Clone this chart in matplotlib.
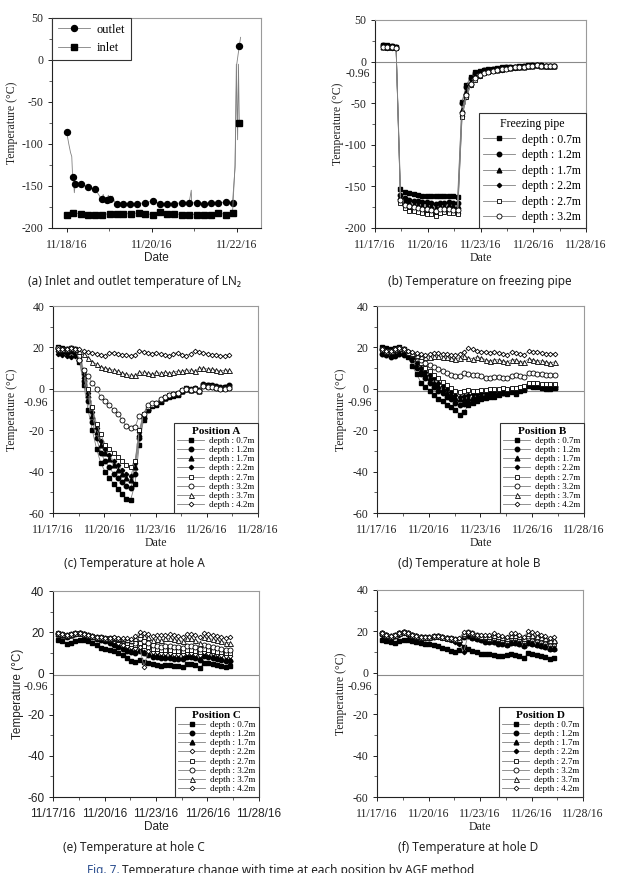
import matplotlib
matplotlib.use('Agg')
import matplotlib.pyplot as plt
from matplotlib.ticker import MultipleLocator, FixedLocator, FixedFormatter

plt.rcParams['axes.unicode_minus'] = False

SERIF = 'Liberation Serif'
SANS = 'Liberation Sans'
CAPF = ['Noto Sans', 'DejaVu Sans']

# ---------------- data ----------------
# panel (a): day number counted from 11/17/16
OUT_T = [1.00, 1.05, 1.09, 1.12, 1.14, 1.17, 1.18, 1.20, 1.23, 1.33, 1.50, 1.67, 1.75, 1.82, 1.86,
         1.90, 1.94, 1.98, 2.02, 2.08, 2.12, 2.18, 2.33, 2.49, 2.66, 2.84, 3.02, 3.20, 3.35, 3.53,
         3.71, 3.88, 3.93, 3.94, 4.06, 4.22, 4.40, 4.57, 4.74, 4.90, 4.96, 5.00, 5.06, 5.09]
OUT_V = [-86, -100, -110, -115, -139, -150, -158, -148, -146, -148, -151, -154, -160, -166, -160,
         -167, -167, -161, -166, -162, -168, -171, -171, -171, -171, -170, -168, -171, -171, -171,
         -170, -170, -155, -170, -170, -171, -170, -170, -169, -170, -128, -5, 17, 27]
OUT_MARK = [0, 4, 7, 9, 10, 11, 13, 16, 18, 21, 22, 23, 24, 25, 26, 27, 28, 29, 30, 31,
            34, 35, 36, 37, 38, 39, 42]
IN_T = [1.00, 1.14, 1.33, 1.50, 1.67, 1.82, 2.02, 2.18, 2.33, 2.51, 2.69, 2.84, 3.02, 3.20, 3.35,
        3.53, 3.71, 3.88, 4.06, 4.22, 4.40, 4.57, 4.74, 4.90, 4.96, 4.99, 5.02, 5.04, 5.06]
IN_V = [-184, -182, -183, -184, -184, -184, -183, -183, -183, -183, -182, -183, -184, -181, -183,
        -183, -184, -184, -184, -184, -184, -182, -184, -182, -125, -5, -95, -5, -75]
IN_MARK = list(range(0, 24)) + [28]

X_LABELS = ['11/17/16', '11/20/16', '11/23/16', '11/26/16', '11/28/16']
A_LABELS = ['11/18/16', '11/20/16', '11/22/16']
DEPTHS = ['depth : 0.7m', 'depth : 1.2m', 'depth : 1.7m', 'depth : 2.2m',
          'depth : 2.7m', 'depth : 3.2m', 'depth : 3.7m', 'depth : 4.2m']

# panel (b): freezing pipe
TB = [0.45, 0.7, 0.95, 1.2, 1.45, 1.7, 1.95, 2.2, 2.45, 2.7, 2.95, 3.2, 3.45, 3.7, 3.95, 4.2, 4.45,
      4.7, 4.95, 5.2, 5.45, 5.7, 5.95, 6.2, 6.45, 6.7, 6.95, 7.2, 7.45, 7.7, 7.95, 8.2, 8.45, 8.7,
      8.95, 9.2, 9.45, 9.7, 9.95, 10.2]
B07 = [20, 19.5, 19, 18, -153, -157, -158, -159, -160, -161, -161, -162, -162, -161, -162, -161, -162, -163,
       -48, -28, -18, -13, -11, -10, -9, -8.5, -8, -7, -7, -6.5, -6, -5.5, -5, -4.5, -4, -4, -4.5, -5, -5, -5]
B12 = [19.5, 19, 18.5, 17.5, -160, -164, -166, -167, -168, -169, -169, -170, -171, -170, -170, -169, -170, -170,
       -50, -30, -20, -14, -12, -10.5, -9.5, -9, -8.5, -7.5, -7, -7, -6.5, -6, -5.5, -5, -4.5, -4, -4.5, -5, -5, -5]
B17 = [18, 17.5, 17, 17, -163, -168, -170, -171, -172, -173, -173, -174, -176, -173, -173, -172, -173, -174,
       -58, -36, -24, -17, -14, -12, -11, -10, -9.5, -8.5, -8, -7.5, -7, -6.5, -6, -5.5, -5, -4.5, -5, -5.5, -5.5, -5.5]
B22 = [17, 16.5, 16.5, 16, -168, -174, -177, -178, -179, -180, -181, -181, -182, -181, -180, -181, -181, -182,
       -65, -42, -28, -21, -17, -14, -12, -11, -10, -9.5, -9, -8, -7.5, -7, -6, -5.5, -5, -4.5, -5, -5.5, -5.5, -5]
B27 = [17, 16.5, 16.5, 16, -170, -176, -179, -180, -181, -182, -183, -183, -185, -182, -181, -182, -182, -183,
       -67, -42, -28, -22, -17, -14, -12, -11, -10, -9.5, -9, -8, -7.5, -7, -6, -5.5, -5, -4.5, -5, -5.5, -5.5, -5]
B32 = [17.5, 17, 17, 16.5, -166, -172, -174, -175, -176, -177, -177, -178, -179, -177, -177, -177, -178, -178,
       -62, -40, -27, -20, -16, -13.5, -12, -11, -10, -9, -8.5, -8, -7, -6.5, -6, -5.5, -5, -4.5, -5, -5.5, -5.5, -5]

# panels (c)-(f): holes A-D
T = [0.3, 0.55, 0.8, 1.05, 1.3, 1.55, 1.8, 2.05, 2.3, 2.55, 2.8, 3.05, 3.3, 3.55, 3.8, 4.05, 4.3, 4.55,
     4.8, 5.05, 5.3, 5.55, 5.8, 6.05, 6.3, 6.55, 6.8, 7.05, 7.3, 7.55, 7.8, 8.05, 8.3, 8.55, 8.8, 9.05,
     9.3, 9.55, 9.8, 10.05, 10.3]

A07 = [20, 19.5, 19, 19.5, 19, 13, 2, -10, -20, -29, -36, -40, -43, -46, -48.5, -51, -53, -53.5, -46, -27, -15,
       -10, -8.5, -8, -6.5, -4.5, -4, -3.5, -3, -1, 0.5, 0, 0, -1, 2, 2, 1.5, 1, 0.5, 1, 1.5]
A12 = [19.5, 19, 18.5, 19, 18.5, 14, 4, -6, -16, -24, -31, -35, -38, -41, -43, -45, -47, -48, -41, -24, -14,
       -10, -8, -7.5, -6, -4.5, -3.5, -3, -2.5, -1, 0, -0.5, 0.5, -0.5, 2.5, 2, 2, 1.5, 1, 1, 2]
A17 = [19, 18.5, 18, 18.5, 18, 15, 6, -3, -13, -21, -27, -31, -34, -37, -39, -41, -43, -44, -38, -22, -13,
       -9.5, -8, -7.5, -6, -4.5, -3.5, -3, -2.5, -1, 0, -0.5, 0, -1, 2, 1.5, 1.5, 1, 0.5, 0.5, 1]
A22 = [17, 16.5, 16, 15.5, 16, 15, 7, -2, -11, -19, -25, -29, -32, -35, -37, -39, -41, -42, -36, -21, -13,
       -9, -8, -7, -5.5, -4, -3, -2.5, -2, -0.5, 0.5, 0, 0.5, -0.5, 1.5, 1.5, 1, 0.5, 0, 0.5, 1]
A27 = [19.5, 19, 19, 19.5, 19, 16, 9, 0, -9, -17, -22, -27, -29, -31, -33, -35, -37, -38, -35, -20, -12,
       -9, -8, -7, -5.5, -4, -3, -2.5, -2, -0.5, 0.5, 0, 0.5, -0.5, 2, 1.5, 1.5, 1, 0.5, 0.5, 1]
A32 = [19.5, 19, 19, 19.5, 19, 14, 9, 6, 3, 0, -4, -6, -8, -10, -12, -15, -18, -19, -18.5, -13, -12,
       -8, -7, -7, -5, -4, -3, -2.5, -2, -0.5, 0, -0.5, 0, -1, 1.5, 1, 1, 0.5, 0, 0, 0.5]
A37 = [19, 19, 19, 19.5, 19, 18.5, 17, 15, 13, 12, 10.5, 10, 9.5, 9, 8.5, 7.5, 7, 6.5, 6.5, 8, 8,
       7.5, 7, 8, 7.5, 8, 7.5, 8, 8.5, 8.5, 9, 9, 8.5, 10, 10, 9.5, 9.5, 9, 8.5, 9, 9]
A42 = [19, 19, 19, 19.5, 19, 19, 18.5, 18, 17.5, 17, 16.5, 16, 17.5, 17.5, 17, 16.5, 16.5, 16, 16.5, 18.5, 18,
       17.5, 17, 17.5, 17, 16.5, 16, 17, 17.5, 16.5, 16, 17, 18.5, 18, 17.5, 17, 16.5, 16.5, 16, 16, 16.5]

D07 = [20, 19.5, 19, 19.5, 20, 19, 15.5, 11, 7, 3, 1, -1, -3, -5, -6, -8, -9, -10, -12.5, -11, -8,
       -7, -6, -5, -4.5, -4, -4, -3, -2, -2.5, -1.5, -2.5, -1, -0.5, 1.5, 1, 1, 0.5, 0, 0, 0.5]
D12 = [17, 16.5, 15.5, 16, 17, 16.5, 16, 14, 10, 7, 5, 3, 1, -1, -2, -4, -5, -7, -8, -7.5, -7,
       -6, -5, -4, -3.5, -3, -3, -2.5, -2, -1.5, -1, -1.5, -0.5, 0, 2, 1.5, 1.5, 1, 0.5, 0.5, 1]
D17 = [19.5, 19, 18.5, 19, 19.5, 19, 17.5, 15, 12, 9, 7, 5, 3, 1.5, 0, -2, -3, -4.5, -5, -5, -4.5,
       -4, -3.5, -3, -3, -2, -2, -1.5, -1, -1, -0.5, -1, 0, 0.5, 2, 1.5, 1.5, 1, 1, 0.5, 1]
D22 = [17, 16.5, 16, 16.5, 17, 17.5, 17, 15, 12.5, 10, 8, 6.5, 5, 3, 1.5, 0, -1.5, -3, -4, -3.5, -3,
       -2.5, -2.5, -2, -2, -1.5, -1.5, -1, -0.5, -0.5, 0, -0.5, 0.5, 1, 2, 2, 1.5, 1.5, 1, 1, 1.5]
D27 = [19, 18.5, 18.5, 19, 19.5, 19, 18, 16.5, 14.5, 12.5, 10, 8.5, 6.5, 5, 3.5, 2, 0.5, -1, -1.5, -1, -0.5,
       -1, -1, -0.5, -0.5, 0, 0, 0, 0.5, 0, 0.5, 0.5, 1, 1.5, 3, 3, 3, 2.5, 2.5, 2.5, 2.5]
D32 = [19, 18.5, 18.5, 19, 19.5, 19, 18, 17, 15.5, 14, 12.5, 11.5, 10.5, 9.5, 8.5, 7.5, 6.5, 6, 6, 7.5, 7,
       6.5, 6.5, 6, 5, 5, 5.5, 5.5, 5, 5, 6, 6.5, 6, 5.5, 7.5, 7.5, 7, 7, 6.5, 6.5, 6.5]
D37 = [19, 18.5, 18.5, 19, 19.5, 19, 18, 17.5, 16.5, 16, 15.5, 15.5, 16, 16, 15.5, 15.5, 15, 14.5, 15, 16, 15,
       14.5, 15.5, 15, 14, 13.5, 14, 14, 13.5, 13, 14, 14, 13, 13, 14.5, 14, 13.5, 13.5, 13, 12.5, 13]
D42 = [19, 18.5, 18.5, 19, 19.5, 19, 18.5, 18, 17.5, 17, 16.5, 17, 17.5, 17.5, 17, 17, 16.5, 16.5, 17, 18, 19.5,
       19, 18.5, 18, 18, 17.5, 18, 17.5, 17, 16.5, 18, 17.5, 17, 16.5, 18.5, 18, 18, 17.5, 17, 17, 17]

C07 = [16, 15.5, 14.5, 15, 15.5, 16, 16, 15.5, 15, 14, 12.5, 12, 11.5, 11, 10, 9, 7.5, 6, 5.5, 6.5, 5.5,
       5, 4.5, 4, 3.5, 4, 4, 3.5, 3.5, 3, 4.5, 4.5, 4, 2.5, 5, 5, 4.5, 4, 3.5, 3, 3.5]
C12 = [19, 18.5, 17.5, 18.5, 19, 19.5, 19, 18, 17.5, 16.5, 16, 15.5, 15, 14, 13, 12, 11, 10.5, 10, 11, 10,
       9, 8, 8, 7.5, 7.5, 7.5, 7, 7, 7, 8, 8, 7.5, 6.5, 8.5, 8, 7.5, 7, 6.5, 6, 6]
C17 = [19, 18.5, 18, 18.5, 19.5, 19.5, 19, 18.5, 18, 17, 16.5, 16, 15.5, 15, 14, 13, 12, 11.5, 11, 12, 10.5,
       10, 9, 9, 8.5, 8.5, 8.5, 8, 8, 8, 9, 9, 8.5, 7.5, 9.5, 9, 8.5, 8, 7.5, 7, 7]
C22 = [19, 18.5, 18, 18.5, 19.5, 19.5, 19, 18.5, 18, 17.5, 17, 16.5, 16, 15.5, 15, 14, 13.5, 13, 12.5, 13, 3,
       11, 10.5, 10.5, 10, 10, 10, 9.5, 9.5, 9.5, 10, 10, 9.5, 9, 10.5, 10, 10, 9.5, 9, 8.5, 8.5]
C27 = [19.5, 19, 18.5, 19, 19.5, 19.5, 19, 18.5, 18, 17.5, 17.5, 17, 17, 16.5, 16, 15.5, 15, 14.5, 14, 15, 13.5,
       13, 12, 12, 11.5, 11.5, 11.5, 11, 11, 11, 11.5, 11.5, 11, 10.5, 12, 11.5, 11, 10.5, 10.5, 10, 10]
C32 = [19.5, 19, 18.5, 19, 19.5, 19.5, 19, 18.5, 18, 17.5, 17.5, 17, 17, 17, 16.5, 16, 16, 15.5, 15, 17, 15.5,
       15, 14, 13.5, 13, 13.5, 13.5, 13, 13, 12.5, 13.5, 13.5, 13, 12, 14, 13.5, 13, 12.5, 12, 11.5, 11.5]
C37 = [19.5, 19, 18.5, 19, 19.5, 19.5, 19, 18.5, 18, 17.5, 17.5, 17, 17, 17.5, 17, 17, 16.5, 16, 17, 19, 18,
       17.5, 16, 16.5, 16, 17, 17, 16.5, 16, 15.5, 17, 17, 16, 15, 17.5, 17, 16.5, 16, 15.5, 15, 15]
C42 = [19.5, 19, 18.5, 19, 19.5, 19.5, 19, 18.5, 18, 17.5, 17.5, 17, 17, 17.5, 17, 17, 17, 16.5, 18, 20, 19.5,
       19, 18, 18.5, 18.5, 18.5, 19, 18.5, 18, 17.5, 19, 19, 18.5, 17.5, 19.5, 19, 18.5, 18, 17.5, 17, 17.5]

F07 = [16, 15.5, 15, 14.5, 15.5, 16, 16, 15.5, 15, 14.5, 14, 14, 13.5, 13, 12, 11.5, 10.5, 10, 11, 12.5, 11.5,
       10.5, 10, 9, 9, 9, 8.5, 8, 8, 8.5, 9, 8.5, 8, 7, 9.5, 9, 8.5, 8, 7.5, 6.5, 7]
F12 = [19, 18.5, 17.5, 18, 19, 19.5, 19, 18.5, 18, 17.5, 17, 17, 17.5, 18, 17.5, 17, 16.5, 16, 15.5, 17.5, 18,
       17, 16.5, 16, 15, 15, 15, 14, 14, 13.5, 14.5, 14.5, 14, 13, 14.5, 14, 13.5, 13, 12.5, 11.5, 11.5]
F17 = [19, 18.5, 18, 18.5, 19, 19.5, 19, 18.5, 18, 17.5, 17.5, 17.5, 18, 18, 17.5, 17, 16.5, 16, 15, 18, 18.5,
       17.5, 17, 16.5, 16, 15.5, 15.5, 15, 15, 14, 15, 15, 14.5, 13.5, 15, 14.5, 14, 13.5, 13, 12, 12]
F22 = [18.5, 18, 17.5, 18, 18.5, 19, 18.5, 18, 17.5, 17, 17, 17, 17.5, 17.5, 17, 16.5, 16, 15, 14, 10, 18,
       17, 16.5, 16, 15.5, 15, 15, 14.5, 14.5, 13.5, 14.5, 14.5, 14, 13, 14.5, 14, 13.5, 13, 12.5, 11.5, 11.5]
F27 = [19, 18.5, 18, 18.5, 19, 19.5, 19, 18.5, 18, 17.5, 17.5, 17.5, 18, 18, 17.5, 17, 17, 16.5, 16, 18, 19,
       18.5, 18, 17.5, 17, 16.5, 17, 16.5, 16, 15.5, 17, 17, 16.5, 15.5, 17, 16.5, 16, 15.5, 15, 14, 14]
F32 = [19, 18.5, 18, 18.5, 19, 19.5, 19, 18.5, 18, 17.5, 17.5, 17.5, 18, 18, 17.5, 17, 17, 16.5, 16.5, 18.5, 19.5,
       19, 18.5, 18, 17.5, 17.5, 18, 17.5, 17, 16.5, 18, 18, 17.5, 16.5, 18, 17.5, 17, 16.5, 16, 15, 15]
F37 = [19, 18.5, 18, 18.5, 19, 19.5, 19, 18.5, 18, 17.5, 17.5, 17.5, 18, 18, 17.5, 17, 17, 16.5, 16.5, 19, 19.5,
       19, 18.5, 18, 18, 18, 18.5, 18, 17.5, 17, 18.5, 18.5, 18, 17, 19, 18.5, 18, 17.5, 17, 16, 16]
F42 = [19, 18.5, 18, 18.5, 19, 19.5, 19, 18.5, 18, 17.5, 17.5, 17.5, 18, 18, 17.5, 17, 17, 16.5, 17, 19.5, 19.5,
       19, 18.5, 18.5, 18.5, 18.5, 19, 18.5, 18, 17.5, 19, 19, 18.5, 17.5, 20, 19.5, 19, 18.5, 18, 17, 17.5]

CAPTIONS = ['(a) Inlet and outlet temperature of LN\u2082', '(b) Temperature on freezing pipe',
            '(c) Temperature at hole A', '(d) Temperature at hole B',
            '(e) Temperature at hole C', '(f) Temperature at hole D']

# ---------------- styles ----------------
W, H = 625, 873
fig = plt.figure(figsize=(W / 100, H / 100), dpi=100)
LC = '#808080'
LW = 0.6

MARKERS = [dict(marker='s', mfc='k', mec='k', ms=3.2),
           dict(marker='o', mfc='k', mec='k', ms=3.2),
           dict(marker='^', mfc='k', mec='k', ms=3.4),
           dict(marker='D', mfc='k', mec='k', ms=2.2),
           dict(marker='s', mfc='white', mec='k', ms=3.4, mew=0.6),
           dict(marker='o', mfc='white', mec='k', ms=3.6, mew=0.6),
           dict(marker='^', mfc='white', mec='k', ms=3.6, mew=0.6),
           dict(marker='D', mfc='white', mec='k', ms=2.4, mew=0.6)]


def px_axes(x0, y0, x1, y1):
    return fig.add_axes([x0 / W, 1 - y1 / H, (x1 - x0) / W, (y1 - y0) / H])


def style(ax, tickfam, ylabfam, xlabfam, ylx):
    for s in ['left', 'bottom']:
        ax.spines[s].set_color('#222222')
        ax.spines[s].set_linewidth(0.8)
    for s in ['top', 'right']:
        ax.spines[s].set_color('#9a9a9a')
        ax.spines[s].set_linewidth(0.8)
    ax.tick_params(which='major', direction='out', length=3.2, width=0.7, colors='#222222',
                   labelsize=8.5, pad=3)
    ax.tick_params(axis='x', which='major', pad=5)
    ax.tick_params(which='minor', direction='out', length=2.5, width=0.6, colors='#444444')
    for lab in ax.get_xticklabels() + ax.get_yticklabels():
        lab.set_family(tickfam)
        lab.set_color('#222222')
    ax.set_ylabel('Temperature (\u00b0C)', family=ylabfam, fontsize=8.5, color='#222222')
    ax.set_xlabel('Date', family=xlabfam, fontsize=8.5, color='#222222')
    ax.yaxis.set_label_coords(ylx, 0.5)
    ax.xaxis.set_label_coords(0.5, -0.115)


def date_axis(ax):
    ax.set_xlim(0, 12)
    ax.xaxis.set_major_locator(FixedLocator([0, 3, 6, 9, 12]))
    ax.xaxis.set_major_formatter(FixedFormatter(X_LABELS))
    ax.xaxis.set_minor_locator(FixedLocator([1.5, 4.5, 7.5, 10.5]))


def ref_line(ax, fam):
    ax.axhline(-0.96, color='#8a8a8a', lw=0.8, zorder=1)
    ax.annotate('-0.96', xy=(0, -0.96), xycoords=ax.get_yaxis_transform(),
                xytext=(-3.5, -8.5), textcoords='offset points', ha='right', va='center',
                family=fam, fontsize=8.5, color='#222222')


def legend(ax, title, fs, tfs, tbold, hl, ls):
    leg = ax.legend(loc='lower right', bbox_to_anchor=(1, 0), borderaxespad=0, title=title,
                    prop={'family': SERIF, 'size': fs},
                    title_fontproperties={'family': SERIF, 'size': tfs,
                                          'weight': 'bold' if tbold else 'normal'},
                    handlelength=hl, handletextpad=0.6, labelspacing=ls, borderpad=0.4,
                    fancybox=False, framealpha=1, edgecolor='#333333')
    leg.get_frame().set_linewidth(0.8)
    return leg


# ---------------- panel (a) ----------------
ax = px_axes(52, 18, 261, 228)
ax.plot(OUT_T, OUT_V, color=LC, lw=LW, marker='o', mfc='k', mec='k', ms=4.3,
        markevery=OUT_MARK, label='outlet')
ax.plot(IN_T, IN_V, color=LC, lw=LW, marker='s', mfc='k', mec='k', ms=4.3,
        markevery=IN_MARK, label='inlet')
ax.set_xlim(0.655, 5.57)
ax.set_ylim(-200, 50)
ax.xaxis.set_major_locator(FixedLocator([1, 3, 5]))
ax.xaxis.set_major_formatter(FixedFormatter(A_LABELS))
ax.xaxis.set_minor_locator(FixedLocator([2, 4]))
ax.yaxis.set_major_locator(MultipleLocator(50))
ax.yaxis.set_minor_locator(MultipleLocator(25))
style(ax, SERIF, SERIF, SANS, -0.163)
leg = ax.legend(loc='upper left', bbox_to_anchor=(0, 1), borderaxespad=0,
                prop={'family': SERIF, 'size': 9}, handlelength=2.6, handletextpad=0.5,
                labelspacing=0.55, borderpad=0.45, fancybox=False, framealpha=1,
                edgecolor='#333333')
leg.get_frame().set_linewidth(0.8)

# ---------------- panel (b) ----------------
ax = px_axes(375, 20, 586, 228)
for vals, lab, mk in zip([B07, B12, B17, B22, B27, B32], DEPTHS[:6], MARKERS[:6]):
    ax.plot(TB, vals, color=LC, lw=LW, label=lab, **mk)
date_axis(ax)
ax.set_ylim(-200, 50)
ax.yaxis.set_major_locator(MultipleLocator(50))
ax.yaxis.set_minor_locator(MultipleLocator(25))
ref_line(ax, SERIF)
style(ax, SERIF, SERIF, SERIF, -0.147)
legend(ax, 'Freezing pipe', 8.5, 8.5, False, 2.7, 0.3)

# ---------------- panels (c)-(f) ----------------
panels = [
    ((53, 306, 258, 513), [A07, A12, A17, A22, A27, A32, A37, A42], 'Position A', SERIF, SERIF, SERIF, -0.171),
    ((377, 306, 584, 513), [D07, D12, D17, D22, D27, D32, D37, D42], 'Position B', SERIF, SERIF, SERIF, -0.145),
    ((53, 591, 259, 797), [C07, C12, C17, C22, C27, C32, C37, C42], 'Position C', SANS, SANS, SANS, -0.14),
    ((377, 590, 583, 797), [F07, F12, F17, F22, F27, F32, F37, F42], 'Position D', SERIF, SERIF, SERIF, -0.145),
]
for k, (rect, series, title, tf, yf, xf, ylx) in enumerate(panels):
    ax = px_axes(*rect)
    for j, (vals, lab) in enumerate(zip(series, DEPTHS)):
        mk = dict(MARKERS[j])
        if k == 2 and j == 3:
            mk = dict(MARKERS[7])
        ax.plot(T, vals, color=LC, lw=LW, label=lab, **mk)
    date_axis(ax)
    ax.set_ylim(-60, 40)
    ax.yaxis.set_major_locator(MultipleLocator(20))
    ax.yaxis.set_minor_locator(MultipleLocator(10))
    ref_line(ax, SERIF)
    style(ax, tf, yf, xf, ylx)
    legend(ax, title, 6.5, 8, True, 2.9, 0.1)

# ---------------- captions ----------------
cap_pos = [(134, 281), (480, 281), (134, 564), (469, 564), (134, 848), (468, 848)]
for (cx, cy), txt in zip(cap_pos, CAPTIONS):
    fig.text(cx / W, 1 - cy / H, txt, ha='center', va='center', family=CAPF,
             fontsize=8.5, color='#222222')
fig.text(87 / W, 1 - 864 / H, 'Fig. 7.', ha='left', va='top', family=CAPF,
         fontsize=8.5, weight='bold', color='#2c4f8f')
fig.text(122 / W, 1 - 864 / H, 'Temperature change with time at each position by AGF method',
         ha='left', va='top', family=CAPF, fontsize=8.5, color='#222222')

fig.savefig('out.png', dpi=100, facecolor='white')
